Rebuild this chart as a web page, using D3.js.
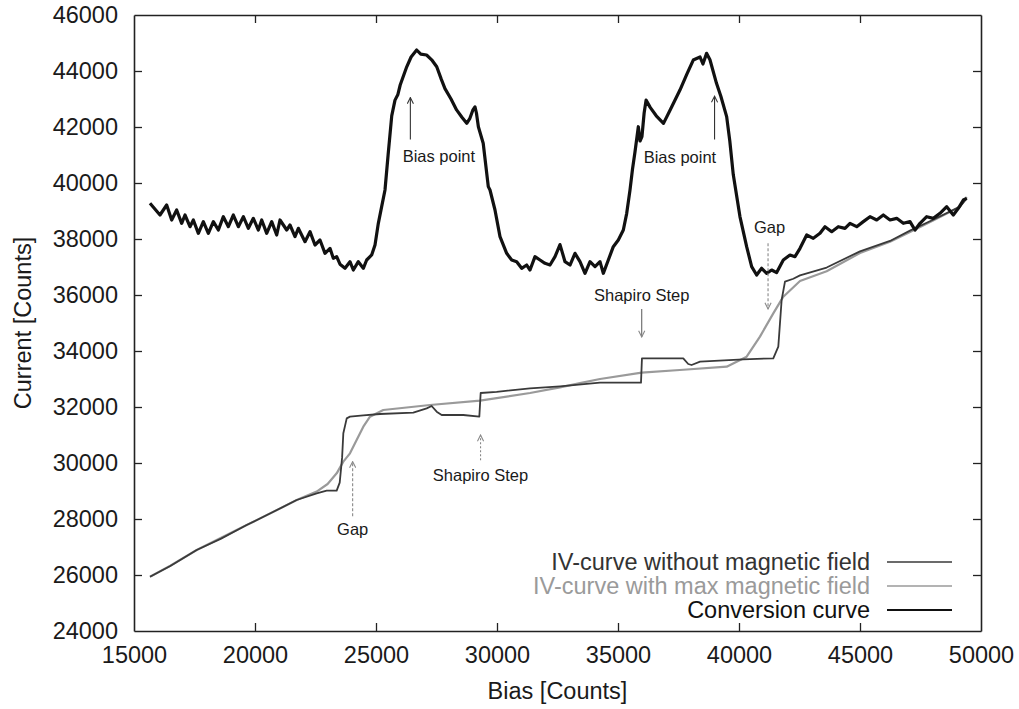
<!DOCTYPE html>
<html>
<head>
<meta charset="utf-8">
<script src="https://cdn.jsdelivr.net/npm/d3@7"></script>
<style>
  html, body { margin: 0; padding: 0; background: #fff; }
  svg { display: block; font-family: "Liberation Sans", Arial, Helvetica, sans-serif; }
</style>
</head>
<body>
<svg id="chart" width="1019" height="709"></svg>
<script>
// ---------------- DATA ----------------
const xTicks = [15000, 20000, 25000, 30000, 35000, 40000, 45000, 50000];
const yTicks = [24000, 26000, 28000, 30000, 32000, 34000, 36000, 38000, 40000, 42000, 44000, 46000];

const seriesNames = ["IV-curve without magnetic field", "IV-curve with max magnetic field", "Conversion curve"];

// IV-curve without magnetic field  [bias, current]
const ivNoField = [
  [15661,25940],[16500,26320],[17590,26893],[18600,27300],[19656,27786],[20700,28230],
  [21723,28679],[22549,28917],[22962,29012],[23375,29012],[23500,29300],[23600,30200],
  [23650,31060],[23790,31595],[23925,31655],[24476,31700],[25165,31750],[26541,31798],
  [27094,31952],[27300,32036],[27507,31833],[27714,31714],[28607,31714],[29270,31655],
  [29325,32500],[29986,32540],[31364,32667],[32603,32740],[34256,32869],[35950,32869],
  [35990,33738],[37696,33738],[37903,33536],[38040,33500],[38390,33620],[40179,33702],
  [41417,33738],[41624,34155],[41762,35822],[41900,36476],[42245,36580],[42521,36700],
  [43622,36980],[45000,37560],[46240,37930],[47066,38300],[48000,38680],[49132,39155],[49410,39450]
];

// IV-curve with max magnetic field  [bias, current]
const ivMaxField = [
  [15661,25940],[16500,26330],[17590,26893],[18600,27330],[19656,27786],[20700,28230],
  [21723,28679],[22549,28980],[23000,29250],[23375,29631],[23650,30048],[23925,30345],
  [24200,30821],[24476,31298],[24752,31655],[25300,31893],[27231,32071],[29297,32226],
  [31364,32500],[32603,32700],[33430,32850],[34256,33000],[35978,33226],[37700,33330],
  [39491,33440],[40316,33797],[40866,34512],[41417,35345],[41831,35940],[42521,36500],
  [43622,36850],[45000,37500],[46240,37900],[47066,38250],[48000,38650],[49132,39155],[49410,39500]
];

// Conversion curve  [bias, current]
const conversion = [
  [15661,39274],[16074,38857],[16350,39214],[16557,38679],[16763,39036],[16970,38560],
  [17107,38857],[17314,38440],[17452,38679],[17659,38203],[17865,38620],[18072,38203],
  [18279,38620],[18486,38321],[18692,38797],[18899,38440],[19106,38857],[19312,38440],
  [19519,38797],[19726,38381],[19932,38738],[20139,38321],[20277,38679],[20483,38203],
  [20690,38620],[20897,38143],[21033,38679],[21310,38321],[21446,38500],[21653,38084],
  [21791,38381],[22066,37904],[22273,38262],[22479,37786],[22686,37964],[22893,37488],
  [23099,37667],[23237,37310],[23375,37370],[23512,37100],[23719,36953],[23925,37190],
  [24063,36893],[24269,37190],[24476,36953],[24614,37250],[24821,37429],[24959,37786],
  [25096,38560],[25234,39155],[25372,39750],[25500,41000],[25650,42400],[25785,42960],
  [25900,43150],[26000,43500],[26270,44150],[26450,44500],[26680,44750],[26850,44600],
  [27090,44570],[27300,44400],[27510,44150],[27700,43700],[27850,43370],[28100,43000],
  [28330,42610],[28550,42350],[28750,42130],[28880,42310],[29000,42600],[29090,42720],
  [29150,42500],[29230,42010],[29430,41420],[29640,39870],[29711,39750],[29917,39036],
  [30124,38084],[30400,37488],[30607,37250],[30813,37190],[31020,36953],[31227,37071],
  [31364,36893],[31570,37369],[31777,37250],[31983,37131],[32190,37071],[32397,37369],
  [32603,37800],[32810,37190],[33017,37071],[33223,37488],[33430,37190],[33636,36774],
  [33843,37190],[34050,37012],[34256,37190],[34393,36774],[34600,37250],[34806,37726],
  [35013,37964],[35220,38321],[35360,38917],[35496,39750],[35600,40500],[35700,41100],
  [35840,42010],[35910,41500],[35990,41660],[36080,42500],[36160,42960],[36330,42700],
  [36580,42400],[36880,42130],[37150,42600],[37560,43320],[37850,43900],[38110,44390],
  [38390,44500],[38510,44250],[38660,44630],[38800,44400],[39070,43560],[39250,43100],
  [39490,42370],[39620,41500],[39763,40300],[40039,38800],[40316,37726],[40523,37012],
  [40729,36714],[40936,36953],[41143,36774],[41349,36893],[41556,36800],[41831,37250],
  [42107,37429],[42314,37369],[42521,37667],[42797,38143],[43070,38024],[43347,38203],
  [43554,38440],[43830,38262],[44103,38440],[44380,38381],[44587,38560],[44864,38440],
  [45137,38620],[45413,38797],[45690,38679],[45963,38857],[46240,38679],[46517,38738],
  [46790,38560],[47066,38620],[47273,38321],[47479,38560],[47756,38797],[48030,38738],
  [48306,38917],[48583,39155],[48856,38857],[49063,39095],[49270,39393],[49410,39453]
];

// annotations: label, label baseline position (bias,current), arrow from -> to (bias,current)
const annotLabels = ["Bias point", "Bias point", "Gap", "Gap", "Shapiro Step", "Shapiro Step"];
const annotTextPos = [[27600,40750],[37560,40700],[41260,38200],[24035,27430],[29320,29350],[35980,35790]];
const annotFrom = [[26420,41550],[38990,41550],[41200,37850],[24035,28100],[29320,30100],[35980,35500]];
const annotTo = [[26420,43050],[38990,43100],[41200,35500],[24035,30050],[29320,31000],[35980,34500]];

// ---------------- DRAW ----------------
const svg = d3.select("#chart");
const x = d3.scaleLinear().domain([15000, 50000]).range([134, 981]);
const y = d3.scaleLinear().domain([24000, 46000]).range([631, 15]);

const fontTick = 23.5;

// defs: arrowheads
const defs = svg.append("defs");
function marker(id, color) {
  defs.append("marker").attr("id", id).attr("viewBox", "0 0 10 10")
    .attr("refX", 9).attr("refY", 5).attr("markerWidth", 7).attr("markerHeight", 7)
    .attr("orient", "auto-start-reverse")
    .append("path").attr("d", "M1,1 L9,5 L1,9").attr("fill", "none")
    .attr("stroke", color).attr("stroke-width", 1.4);
}
marker("arrBlack", "#333");
marker("arrGray", "#888");

// axes
const axisColor = "#222";
const gB = svg.append("g").attr("transform", `translate(0,${y(24000)})`)
  .call(d3.axisBottom(x).tickValues(xTicks).tickSizeInner(-8).tickSizeOuter(0).tickPadding(15).tickFormat(d3.format("d")));
const gT = svg.append("g").attr("transform", `translate(0,${y(46000)})`)
  .call(d3.axisTop(x).tickValues(xTicks).tickSizeInner(-8).tickSizeOuter(0).tickFormat(""));
const gL = svg.append("g").attr("transform", `translate(${x(15000)},0)`)
  .call(d3.axisLeft(y).tickValues(yTicks).tickSizeInner(-8).tickSizeOuter(0).tickPadding(16).tickFormat(d3.format("d")));
const gR = svg.append("g").attr("transform", `translate(${x(50000)},0)`)
  .call(d3.axisRight(y).tickValues(yTicks).tickSizeInner(-8).tickSizeOuter(0).tickFormat(""));
[gB, gT, gL, gR].forEach(g => {
  g.select(".domain").attr("stroke", axisColor).attr("stroke-width", 1.6);
  g.selectAll(".tick line").attr("stroke", axisColor).attr("stroke-width", 1.3);
  g.selectAll(".tick text").attr("fill", "#1a1a1a").style("font-size", fontTick + "px")
   .style("font-family", "'Liberation Sans', Arial, sans-serif");
});
gB.selectAll(".tick").filter(d => d === 15000 || d === 50000).select("line").remove();
gT.selectAll(".tick").filter(d => d === 15000 || d === 50000).select("line").remove();
gL.selectAll(".tick").filter(d => d === 24000 || d === 46000).select("line").remove();
gR.selectAll(".tick").filter(d => d === 24000 || d === 46000).select("line").remove();

// axis titles
svg.append("text").attr("x", (x(15000) + x(50000)) / 2).attr("y", 699)
  .attr("text-anchor", "middle").attr("fill", "#1a1a1a").style("font-size", "23.5px")
  .text("Bias [Counts]");
svg.append("text").attr("transform", `translate(31,${(y(24000) + y(46000)) / 2}) rotate(-90)`)
  .attr("text-anchor", "middle").attr("fill", "#1a1a1a").style("font-size", "23.5px")
  .text("Current [Counts]");

// lines
const line = d3.line().x(d => x(d[0])).y(d => y(d[1]));
svg.append("path").datum(ivMaxField).attr("d", line).attr("fill", "none")
  .attr("stroke", "#9a9a9a").attr("stroke-width", 2.2).attr("stroke-linejoin", "round");
svg.append("path").datum(ivNoField).attr("d", line).attr("fill", "none")
  .attr("stroke", "#3a3a3a").attr("stroke-width", 1.8).attr("stroke-linejoin", "round");
svg.append("path").datum(conversion).attr("d", line).attr("fill", "none")
  .attr("stroke", "#111").attr("stroke-width", 3.2).attr("stroke-linejoin", "round");

// annotations
const annotStyle = [
  {c: "#333", m: "arrBlack", dash: null},
  {c: "#333", m: "arrBlack", dash: null},
  {c: "#888", m: "arrGray", dash: "3,2"},
  {c: "#888", m: "arrGray", dash: "3,2"},
  {c: "#888", m: "arrGray", dash: "2,2"},
  {c: "#666", m: "arrGray", dash: null}
];
annotLabels.forEach((lab, i) => {
  svg.append("line")
    .attr("x1", x(annotFrom[i][0])).attr("y1", y(annotFrom[i][1]))
    .attr("x2", x(annotTo[i][0])).attr("y2", y(annotTo[i][1]))
    .attr("stroke", annotStyle[i].c).attr("stroke-width", 1.1)
    .attr("stroke-dasharray", annotStyle[i].dash)
    .attr("marker-end", `url(#${annotStyle[i].m})`);
  svg.append("text").attr("x", x(annotTextPos[i][0])).attr("y", y(annotTextPos[i][1]))
    .attr("text-anchor", "middle").attr("fill", "#1a1a1a").style("font-size", "16.5px")
    .text(lab);
});

// legend
const legColors = ["#3a3a3a", "#9a9a9a", "#111"];
const legTextColors = ["#333", "#9a9a9a", "#111"];
const legY = [562, 586, 610];
seriesNames.forEach((n, i) => {
  svg.append("text").attr("x", 870).attr("y", legY[i]).attr("dy", "0.36em")
    .attr("text-anchor", "end").attr("fill", legTextColors[i]).style("font-size", "23.5px").text(n);
  svg.append("line").attr("x1", 887).attr("x2", 952).attr("y1", legY[i]).attr("y2", legY[i])
    .attr("stroke", legColors[i]).attr("stroke-width", i === 2 ? 1.8 : 1.5);
});
</script>
</body>
</html>
